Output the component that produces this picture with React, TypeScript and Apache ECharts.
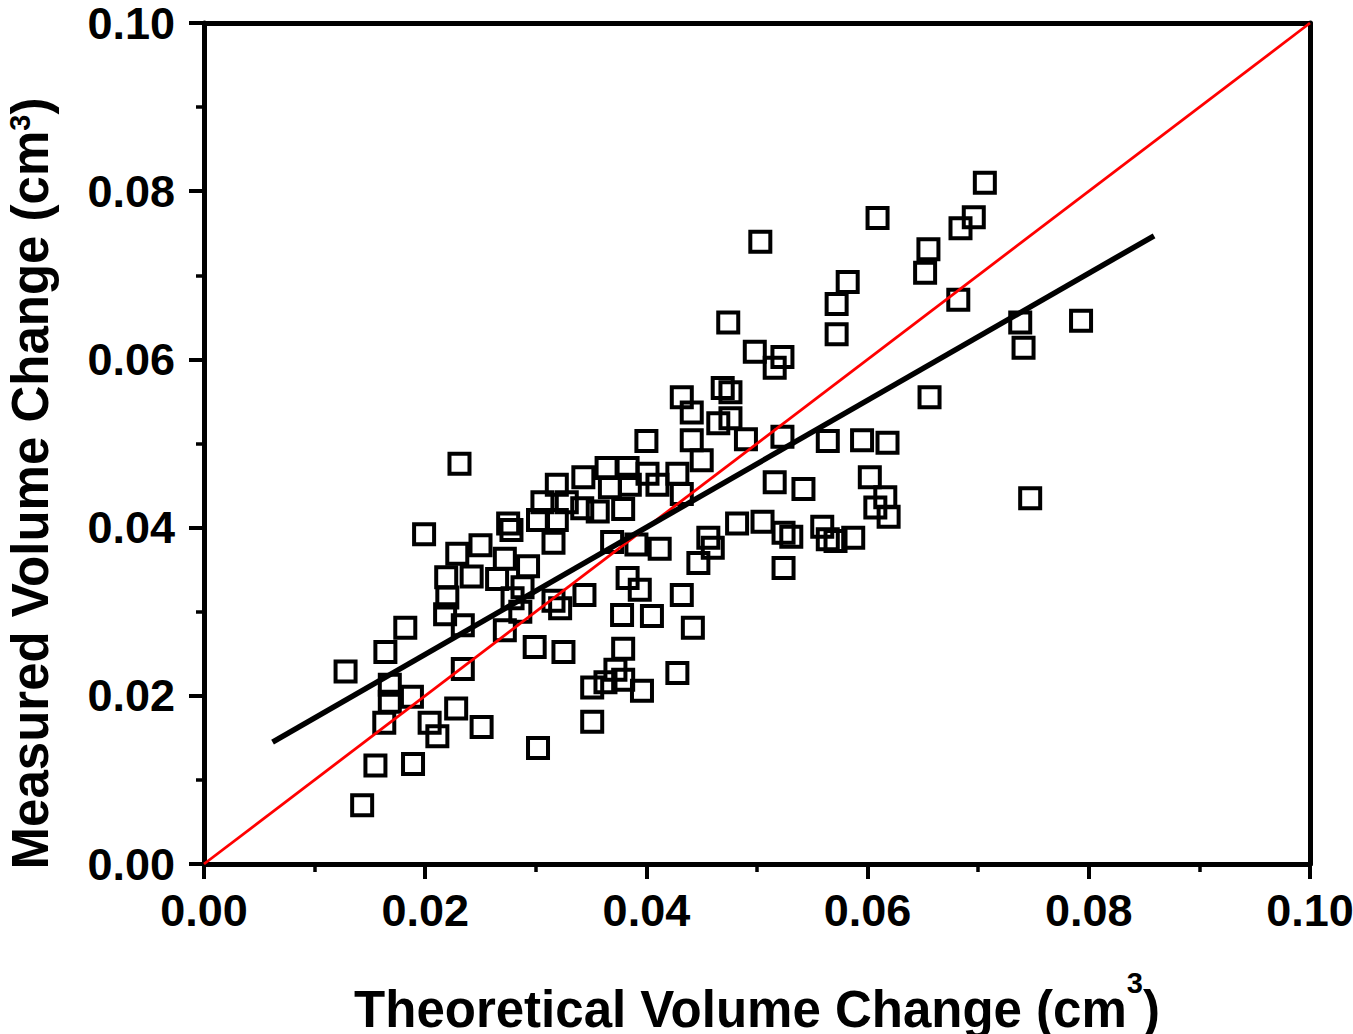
import React, { useEffect, useRef } from "react";
import * as echarts from "echarts";

const xTicks = [0, 0.02, 0.04, 0.06, 0.08, 0.1];
const theoretical = [
  0.0128, 0.0143, 0.0155, 0.0164, 0.0163, 0.0168, 0.0168, 0.0182, 0.0188, 0.0189,
  0.0199, 0.0204, 0.0211, 0.0218, 0.0219, 0.0220, 0.0228, 0.0229, 0.0231, 0.0234,
  0.0234, 0.0242, 0.0250, 0.0251, 0.0265, 0.0272, 0.0272, 0.0275, 0.0278, 0.0279,
  0.0286, 0.0288, 0.0293, 0.0299, 0.0302, 0.0302, 0.0306, 0.0316, 0.0316, 0.0322,
  0.0319, 0.0319, 0.0325, 0.0328, 0.0344, 0.0343, 0.0342, 0.0351, 0.0351, 0.0356,
  0.0363, 0.0364, 0.0367, 0.0369, 0.0372, 0.0378, 0.0379, 0.0379, 0.0379, 0.0383,
  0.0385, 0.0383, 0.0391, 0.0394, 0.0396, 0.0405, 0.0400, 0.0401, 0.0410, 0.0412,
  0.0428, 0.0428, 0.0432, 0.0432, 0.0432, 0.0441, 0.0441, 0.0442, 0.0447, 0.0450,
  0.0456, 0.0460, 0.0465, 0.0469, 0.0476, 0.0474, 0.0476, 0.0482, 0.0490, 0.0498,
  0.0503, 0.0505, 0.0516, 0.0516, 0.0523, 0.0523, 0.0524, 0.0524, 0.0531, 0.0542,
  0.0559, 0.0564, 0.0564, 0.0571, 0.0572, 0.0572, 0.0582, 0.0587, 0.0595, 0.0602,
  0.0607, 0.0609, 0.0616, 0.0618, 0.0619, 0.0652, 0.0655, 0.0656, 0.0682, 0.0684,
  0.0696, 0.0706, 0.0738, 0.0741, 0.0747, 0.0793,
];
const measured = [
  0.0229, 0.0070, 0.0117, 0.0252, 0.0168, 0.0213, 0.0193, 0.0281, 0.0199, 0.0119,
  0.0392, 0.0168, 0.0152, 0.0297, 0.0341, 0.0317, 0.0185, 0.0369, 0.0476, 0.0284,
  0.0232, 0.0342, 0.0379, 0.0163, 0.0339, 0.0363, 0.0278, 0.0405, 0.0397, 0.0316,
  0.0300, 0.0329, 0.0354, 0.0258, 0.0409, 0.0138, 0.0430, 0.0382, 0.0313, 0.0304,
  0.0451, 0.0409, 0.0252, 0.0430, 0.0320, 0.0460, 0.0423, 0.0210, 0.0169, 0.0419,
  0.0216, 0.0471, 0.0448, 0.0383, 0.0231, 0.0296, 0.0422, 0.0256, 0.0219, 0.0471,
  0.0451, 0.0340, 0.0380, 0.0326, 0.0206, 0.0295, 0.0503, 0.0464, 0.0451, 0.0375,
  0.0227, 0.0464, 0.0555, 0.0440, 0.0320, 0.0537, 0.0504, 0.0281, 0.0358, 0.0480,
  0.0388, 0.0376, 0.0524, 0.0566, 0.0561, 0.0644, 0.0530, 0.0405, 0.0505, 0.0609,
  0.0740, 0.0407, 0.0590, 0.0454, 0.0603, 0.0508, 0.0394, 0.0352, 0.0389, 0.0446,
  0.0401, 0.0503, 0.0386, 0.0384, 0.0666, 0.0630, 0.0692, 0.0388, 0.0504, 0.0460,
  0.0424, 0.0768, 0.0436, 0.0501, 0.0413, 0.0703, 0.0731, 0.0555, 0.0671, 0.0756,
  0.0769, 0.0810, 0.0644, 0.0614, 0.0435, 0.0646,
];
const identityX = [0, 0.1];
const identityY = [0, 0.1];
const fitX = [0.0062, 0.0859];
const fitY = [0.0145, 0.0747];

const FONT = "'Liberation Sans', Arial, sans-serif";

export default function App() {
  const ref = useRef<HTMLDivElement>(null);
  useEffect(() => {
    if (!ref.current) return;
    const chart = echarts.init(ref.current, null, { renderer: "svg" });
    const labelStyle = {
      fontFamily: FONT,
      fontWeight: "bold",
      fontSize: 45,
      lineHeight: 44,
      color: "#000",
      formatter: (v: number) => v.toFixed(2),
    };
    const xTitleRich = {
      a: { fontFamily: FONT, fontWeight: "bold", fontSize: 51, color: "#000", lineHeight: 82 },
      s: { fontFamily: FONT, fontWeight: "bold", fontSize: 29, color: "#000", lineHeight: 29, verticalAlign: "top" },
    };
    const yTitleRich = {
      a: { fontFamily: FONT, fontWeight: "bold", fontSize: 51, color: "#000", lineHeight: 51 },
      s: { fontFamily: FONT, fontWeight: "bold", fontSize: 29, color: "#000", lineHeight: 51, verticalAlign: "top" },
    };
    const axisCommon = {
      type: "value",
      min: 0,
      max: 0.1,
      interval: 0.02,
      splitLine: { show: false },
      axisLine: { show: true, onZero: false, lineStyle: { color: "#000", width: 5 } },
      axisTick: { show: true, inside: false, length: 15, lineStyle: { color: "#000", width: 4 } },
      minorTick: { show: true, splitNumber: 2, length: 8, lineStyle: { color: "#000", width: 3.5 } },
    };
    const frameAxis = {
      type: "value",
      min: 0,
      max: 0.1,
      axisLine: { show: true, onZero: false, lineStyle: { color: "#000", width: 5 } },
      axisTick: { show: false },
      axisLabel: { show: false },
      splitLine: { show: false },
    };
    chart.setOption({
      animation: false,
      backgroundColor: "#fff",
      grid: {
        left: 204,
        top: 23,
        width: 1106,
        height: 841,
        containLabel: false,
        outerBoundsMode: "none",
      },
      xAxis: [
        {
          ...axisCommon,
          position: "bottom",
          axisLabel: { ...labelStyle, margin: 24 },
          name: "{a|Theoretical Volume Change (cm}{s|3}{a|)}",
          nameLocation: "middle",
          nameGap: 104,
          nameTextStyle: { rich: xTitleRich },
        },
        { ...frameAxis, position: "top" },
      ],
      yAxis: [
        {
          ...axisCommon,
          position: "left",
          axisLabel: { ...labelStyle, margin: 29 },
          name: "{a|Measured Volume Change (cm}{s|3}{a|)}",
          nameLocation: "middle",
          nameGap: 148,
          nameTextStyle: { rich: yTitleRich, padding: [0, 80, 0, 0] },
        },
        { ...frameAxis, position: "right" },
      ],
      series: [
        {
          type: "scatter",
          symbol: "rect",
          symbolSize: 20,
          data: theoretical.map((x, i) => [x, measured[i]]),
          itemStyle: { color: "rgba(0,0,0,0)", borderColor: "#000", borderWidth: 4, opacity: 1 },
          z: 2,
        },
        {
          type: "line",
          data: identityX.map((x, i) => [x, identityY[i]]),
          showSymbol: false,
          lineStyle: { color: "#ff0000", width: 2.8 },
          z: 3,
        },
        {
          type: "line",
          data: fitX.map((x, i) => [x, fitY[i]]),
          showSymbol: false,
          lineStyle: { color: "#000", width: 5.5 },
          z: 4,
        },
      ],
    });
    return () => chart.dispose();
  }, []);
  return (
    <div
      ref={ref}
      style={{ position: "absolute", left: 0, top: 0, width: 1353, height: 1034 }}
    />
  );
}
